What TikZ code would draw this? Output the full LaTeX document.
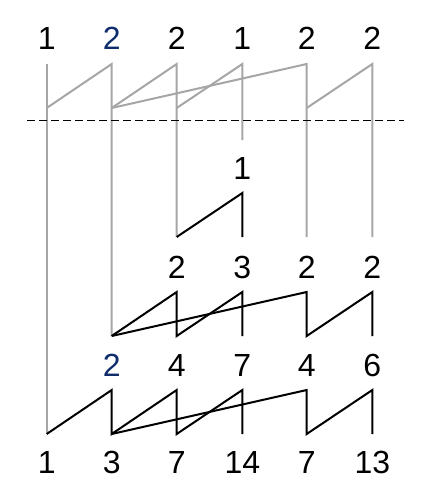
\documentclass[tikz,border=0pt]{standalone}
\usepackage{fontspec}
\setmainfont{Liberation Sans}
\definecolor{gline}{HTML}{A6A6A6}
\definecolor{navy}{HTML}{0F2D6B}
\begin{document}
\begin{tikzpicture}[x=0.75pt,y=-0.75pt,
  num/.style={inner sep=0pt,font=\fontsize{24}{28}\selectfont},
  gray line/.style={draw=gline,line width=1.5pt},
  black line/.style={draw=black,line width=1.5pt},
  cut/.style={draw=black,line width=0.75pt,dash pattern=on 6pt off 3pt}]
\useasboundingbox (0,0) rectangle (433,503);
% column x positions
\def\xa{46.7}\def\xb{111.7}\def\xc{176.7}\def\xd{242.3}\def\xe{306.7}\def\xf{372.3}
% top labels
\node[num] (a1) at (\xa,38) {1};
\node[num,text=navy] (a2) at (\xb,38) {2};
\node[num] (a3) at (\xc,38) {2};
\node[num] (a4) at (\xd,38) {1};
\node[num] (a5) at (\xe,38) {2};
\node[num] (a6) at (\xf,38) {2};
% single label
\node[num] (s4) at (\xd,168) {1};
% second row
\node[num] (b3) at (\xc,267) {2};
\node[num] (b4) at (\xd,267) {3};
\node[num] (b5) at (\xe,267) {2};
\node[num] (b6) at (\xf,267) {2};
% third row
\node[num,text=navy] (c2) at (\xb,365) {2};
\node[num] (c3) at (\xc,365) {4};
\node[num] (c4) at (\xd,365) {7};
\node[num] (c5) at (\xe,365) {4};
\node[num] (c6) at (\xf,365) {6};
% bottom row
\node[num] (d1) at (\xa,462) {1};
\node[num] (d2) at (\xb,462) {3};
\node[num] (d3) at (\xc,462) {7};
\node[num] (d4) at (\xd,462) {14};
\node[num] (d5) at (\xe,462) {7};
\node[num] (d6) at (\xf,462) {13};
% coordinates
\foreach \i/\x in {1/\xa,2/\xb,3/\xc,4/\xd,5/\xe,6/\xf}{
  \coordinate (t\i) at (\x,64);
  \coordinate (g\i) at (\x,108);
  \coordinate (m\i) at (\x,237);
  \coordinate (p\i) at (\x,292);
  \coordinate (q\i) at (\x,336);
  \coordinate (r\i) at (\x,390);
  \coordinate (u\i) at (\x,434);
}
\coordinate (e4) at (\xd,140);
\coordinate (k4) at (\xd,193);
\coordinate (dl) at (27,120);
\coordinate (dr) at (404,120);
% gray lines
\draw[gray line] (t1) -- (u1);
\draw[gray line] (g1) -- (t2) -- (q2);
\draw[gray line] (g2) -- (t3) -- (m3);
\draw[gray line] (g2) -- (t5) -- (m5);
\draw[gray line] (g3) -- (t4) -- (e4);
\draw[gray line] (g5) -- (t6) -- (m6);
% dashed cut
\draw[cut] (dl) -- (dr);
% black block 1
\draw[black line] (m3) -- (k4) -- (m4);
% black block 2
\draw[black line] (q2) -- (p3) -- (q3) -- (p4) -- (q4);
\draw[black line] (q2) -- (p5) -- (q5) -- (p6) -- (q6);
% black block 3
\draw[black line] (u1) -- (r2) -- (u2) -- (r3) -- (u3) -- (r4) -- (u4);
\draw[black line] (u2) -- (r5) -- (u5) -- (r6) -- (u6);
\end{tikzpicture}
\end{document}
